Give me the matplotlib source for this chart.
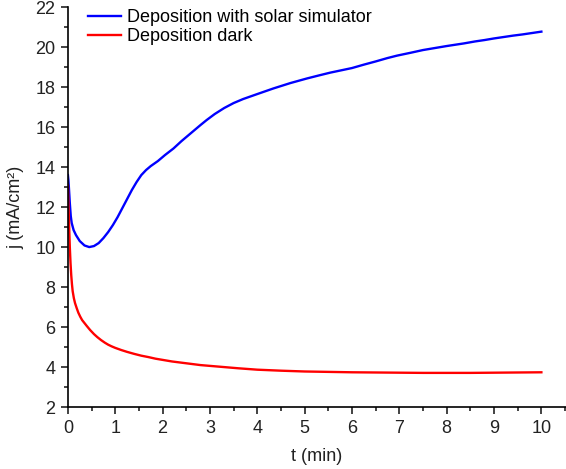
import matplotlib
matplotlib.use("Agg")
import matplotlib.pyplot as plt
from matplotlib.ticker import MultipleLocator

plt.rcParams['font.family'] = ['Liberation Sans', 'DejaVu Sans']

# Deposition with solar simulator
t_light = [0, 0.01, 0.02, 0.04, 0.06, 0.08, 0.12, 0.17, 0.25, 0.35, 0.45,
           0.55, 0.65, 0.75, 0.85, 0.95, 1.05, 1.15, 1.25, 1.35, 1.45, 1.55,
           1.65, 1.75, 1.9, 2.05, 2.23, 2.4, 2.6, 2.8, 2.93, 3.1, 3.3, 3.5,
           3.7, 4.0, 4.34, 4.7, 5.05, 5.3, 5.54, 5.8, 6.0, 6.25, 6.5, 6.75,
           6.95, 7.25, 7.5, 7.75, 8.0, 8.36, 8.6, 8.8, 9.0, 9.2, 9.4, 9.6,
           9.8, 10.0]
j_light = [13.6, 13.35, 13.0, 12.2, 11.55, 11.2, 10.85, 10.6, 10.3, 10.08,
           10.0, 10.05, 10.2, 10.45, 10.75, 11.1, 11.5, 11.95, 12.4, 12.85,
           13.25, 13.6, 13.85, 14.05, 14.3, 14.6, 14.93, 15.3, 15.7, 16.1,
           16.35, 16.65, 16.95, 17.2, 17.4, 17.65, 17.93, 18.2, 18.43, 18.58,
           18.72, 18.85, 18.95, 19.12, 19.28, 19.45, 19.57, 19.72, 19.85,
           19.95, 20.05, 20.18, 20.28, 20.35, 20.43, 20.5, 20.57, 20.63,
           20.7, 20.77]

# Deposition dark
t_dark = [0, 0.01, 0.02, 0.03, 0.04, 0.055, 0.07, 0.085, 0.1, 0.125, 0.15,
          0.185, 0.22, 0.26, 0.3, 0.35, 0.4, 0.47, 0.55, 0.62, 0.7, 0.78,
          0.85, 0.92, 1.0, 1.13, 1.25, 1.4, 1.55, 1.7, 1.85, 2.0, 2.2, 2.4,
          2.6, 2.8, 3.0, 3.3, 3.6, 4.0, 4.5, 5.0, 5.5, 6.0, 6.5, 7.0, 7.5,
          8.0, 8.5, 9.0, 9.5, 10.0]
j_dark = [13.1, 12.3, 11.5, 10.7, 10.0, 9.2, 8.6, 8.15, 7.8, 7.45, 7.2,
          6.95, 6.72, 6.52, 6.35, 6.2, 6.05, 5.85, 5.65, 5.5, 5.35, 5.22,
          5.12, 5.04, 4.96, 4.85, 4.76, 4.66, 4.57, 4.5, 4.42, 4.36, 4.28,
          4.22, 4.16, 4.1, 4.06, 4.0, 3.94, 3.87, 3.82, 3.78, 3.76, 3.74,
          3.73, 3.72, 3.71, 3.71, 3.71, 3.72, 3.73, 3.74]

fig = plt.figure(figsize=(5.66, 4.69), dpi=100)
ax = fig.add_axes([0.120, 0.132, 0.880, 0.853])

ax.plot(t_light, j_light, color='#0000ff', linewidth=1.7,
        label='Deposition with solar simulator')
ax.plot(t_dark, j_dark, color='#ff0000', linewidth=1.7,
        label='Deposition dark')

ax.set_xlim(0, 10.52)
ax.set_ylim(2, 22)
ax.xaxis.set_major_locator(MultipleLocator(1))
ax.xaxis.set_minor_locator(MultipleLocator(0.5))
ax.yaxis.set_major_locator(MultipleLocator(2))
ax.yaxis.set_minor_locator(MultipleLocator(1))

for s in ['top', 'right']:
    ax.spines[s].set_visible(False)
for s in ['left', 'bottom']:
    ax.spines[s].set_linewidth(1.2)

ax.tick_params(which='major', direction='out', length=5, width=1.2,
               labelsize=13, colors='#222222', pad=4)
ax.tick_params(which='minor', direction='out', length=3, width=1.2,
               colors='#222222')

ax.set_xlabel('t (min)', fontsize=13, color='#222222', labelpad=8)
ax.set_ylabel('j (mA/cm²)', fontsize=13, color='#222222', labelpad=8)

ax.legend(loc='upper left', bbox_to_anchor=(0.008, 1.035), frameon=False,
          fontsize=13, handlelength=1.8, handletextpad=0.35,
          labelspacing=0.1)

fig.savefig('out.png', dpi=100)
